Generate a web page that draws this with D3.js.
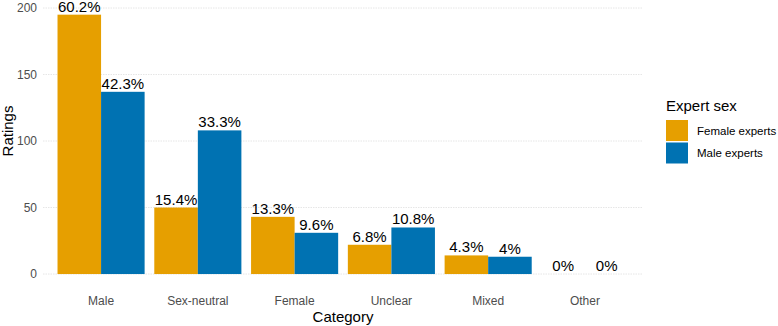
<!DOCTYPE html>
<html>
<head>
<meta charset="utf-8">
<script src="https://cdn.jsdelivr.net/npm/d3@7"></script>
<style>
	body { margin: 0; background: #fff; }
	svg { font-family: "Liberation Sans", Arial, sans-serif; }
</style>
</head>
<body>
<svg id="chart"></svg>
<script>
// data
var categories = ["Male", "Sex-neutral", "Female", "Unclear", "Mixed", "Other"];
var groups = ["Female experts", "Male experts"];
var femaleRatings = [195, 50, 43, 22, 14, 0];
var maleRatings = [137, 108, 31, 35, 13, 0];
var femaleLabels = ["60.2%", "15.4%", "13.3%", "6.8%", "4.3%", "0%"];
var maleLabels = ["42.3%", "33.3%", "9.6%", "10.8%", "4%", "0%"];
var yTicks = [0, 50, 100, 150, 200];
var colors = ["#E69F00", "#0072B2"];

var width = 778,
	height = 326
var panel = { left: 43, right: 643, top: 1.7, bottom: 287 }

var svg = d3.select("#chart")
	.attr("width", width)
	.attr("height", height);

var rows = []
categories.forEach(function (c, i) {
	rows.push({ cat: c, group: groups[0], value: femaleRatings[i], label: femaleLabels[i] })
	rows.push({ cat: c, group: groups[1], value: maleRatings[i], label: maleLabels[i] })
})

var maxVal = d3.max(rows, function (d) { return d.value })
var x = d3.scaleBand()
	.domain(categories)
	.range([panel.left, panel.right])
	.paddingInner(0.1)
	.paddingOuter(0.15);
var xSub = d3.scaleBand()
	.domain(groups)
	.range([0, x.bandwidth()]);
var y = d3.scaleLinear()
	.domain([-maxVal * 0.05, maxVal * 1.05])
	.range([panel.bottom, panel.top]);
var color = d3.scaleOrdinal().domain(groups).range(colors)

// gridlines
svg.append("g")
	.selectAll("line")
	.data(yTicks)
	.enter().append("line")
	.attr("x1", panel.left)
	.attr("x2", panel.right)
	.attr("y1", function (d) { return y(d) })
	.attr("y2", function (d) { return y(d) })
	.attr("stroke", "#e6e6e6")
	.attr("stroke-width", 1)
	.attr("stroke-dasharray", "1.5,1");

// y axis tick labels
svg.append("g")
	.selectAll("text")
	.data(yTicks)
	.enter().append("text")
	.attr("x", 37)
	.attr("y", function (d) { return y(d) })
	.attr("dy", "0.35em")
	.attr("text-anchor", "end")
	.style("font-size", "12px")
	.attr("fill", "#4d4d4d")
	.text(function (d) { return d });

// bars
svg.append("g")
	.selectAll("rect")
	.data(rows)
	.enter().append("rect")
	.attr("x", function (d) { return x(d.cat) + xSub(d.group) })
	.attr("y", function (d) { return y(d.value) })
	.attr("width", xSub.bandwidth())
	.attr("height", function (d) { return y(0) - y(d.value) })
	.attr("fill", function (d) { return color(d.group) });

// bar labels
svg.append("g")
	.selectAll("text")
	.data(rows)
	.enter().append("text")
	.attr("x", function (d) { return x(d.cat) + xSub(d.group) + xSub.bandwidth() / 2 })
	.attr("y", function (d) { return y(d.value) - 3 })
	.attr("text-anchor", "middle")
	.style("font-size", "15px")
	.attr("fill", "#000")
	.text(function (d) { return d.label });

// x axis category labels
svg.append("g")
	.selectAll("text")
	.data(categories)
	.enter().append("text")
	.attr("x", function (d) { return x(d) + x.bandwidth() / 2 })
	.attr("y", 305)
	.attr("text-anchor", "middle")
	.style("font-size", "12px")
	.attr("fill", "#4d4d4d")
	.text(function (d) { return d });

// axis titles
svg.append("text")
	.attr("x", (panel.left + panel.right) / 2)
	.attr("y", 322)
	.attr("text-anchor", "middle")
	.style("font-size", "15px")
	.text("Category");

svg.append("text")
	.attr("transform", "translate(13,131) rotate(-90)")
	.attr("text-anchor", "middle")
	.style("font-size", "15px")
	.text("Ratings");

// legend
var legend = svg.append("g").attr("transform", "translate(666,0)")
legend.append("text")
	.attr("x", 0)
	.attr("y", 111)
	.style("font-size", "15px")
	.text("Expert sex");
var item = legend.selectAll(".item")
	.data(groups)
	.enter().append("g")
	.attr("class", "item")
	.attr("transform", function (d, i) { return "translate(0," + (120 + i * 22.5) + ")" });
item.append("rect")
	.attr("width", 22)
	.attr("height", 21)
	.attr("fill", function (d) { return color(d) });
item.append("text")
	.attr("x", 31)
	.attr("y", 10.5)
	.attr("dy", "0.35em")
	.style("font-size", "11.5px")
	.text(function (d) { return d });
</script>
</body>
</html>
